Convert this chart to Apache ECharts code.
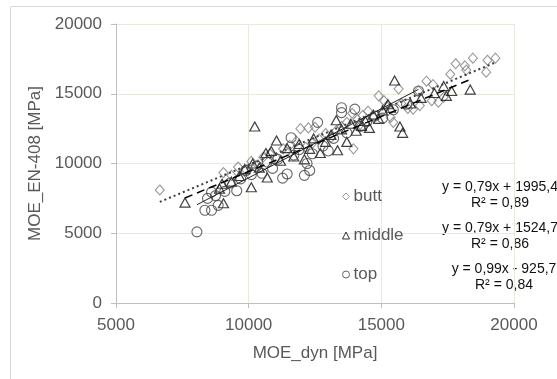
<!DOCTYPE html>
<html>
<head>
<meta charset="utf-8">
<script src="https://cdn.jsdelivr.net/npm/echarts@6/dist/echarts.min.js"></script>
<style>
  html, body { margin: 0; padding: 0; background: #fff; }
  #chart { width: 557px; height: 379px; }
</style>
</head>
<body>
<div id="chart"></div>
<script>
// MOE_dyn [MPa] vs MOE_EN-408 [MPa]
var buttPoints = [
  [6650, 8100], [9050, 9350], [9350, 9150], [9600, 9750], [9900, 9550], [10100, 10150],
  [10350, 9900], [10550, 10450], [10800, 10700], [11050, 10400], [11300, 11050], [11550, 11300],
  [11800, 11600], [11950, 12500], [12250, 12550], [12500, 12600], [12150, 11150], [12400, 11450],
  [12650, 11750], [12900, 12150], [13100, 11850], [13300, 12350], [13500, 12650], [13700, 12950],
  [13950, 11050], [14100, 13150], [14300, 13450], [14500, 13750], [14700, 13300], [14900, 14850],
  [15100, 14500], [15350, 13300], [15450, 12950], [15650, 15350], [15750, 14300], [16000, 13950],
  [16200, 13900], [16450, 14150], [16700, 15900], [16900, 14500], [16950, 15650], [17150, 14400],
  [17350, 14750], [17600, 16400], [17800, 17150], [18150, 17000], [18200, 16700], [18450, 17550],
  [18950, 16550], [19000, 17400], [19300, 17550], [16400, 15200], [13900, 13600], [14200, 12800],
  [15200, 14100]
];
var middlePoints = [
  [7600, 7200], [8900, 8200], [9050, 7150], [9000, 8550], [9350, 8700], [9650, 9100],
  [9850, 9600], [10100, 8300], [10150, 10000], [10230, 12650], [10400, 9700], [10700, 9000],
  [10650, 10750], [10850, 10900], [11050, 11650], [11200, 10200], [11450, 11100], [11700, 10500],
  [11900, 11400], [12100, 10300], [12300, 11050], [12450, 11800], [12700, 10750], [12900, 11550],
  [13100, 12050], [13300, 13100], [13350, 10950], [13500, 12450], [13700, 11550], [13850, 12850],
  [14050, 12350], [14250, 12700], [14400, 13050], [14550, 12550], [14700, 13500], [14900, 13200],
  [15050, 13800], [15250, 14250], [15350, 14000], [15500, 15950], [15700, 12650], [15800, 12200],
  [16100, 14300], [16500, 14700], [17000, 15050], [17350, 15550], [17450, 14850], [17650, 15200],
  [18350, 15300]
];
var topPoints = [
  [8050, 5100], [8350, 6650], [8600, 6650], [8850, 7000], [8450, 7500], [8600, 7950],
  [8750, 7700], [9100, 8000], [9550, 8050], [9300, 8600], [9700, 8900], [9900, 9500],
  [10100, 9200], [10300, 9800], [10500, 9300], [10700, 10100], [10900, 9650], [11100, 10300],
  [11280, 8950], [11450, 9250], [11600, 11850], [11700, 10600], [11900, 11000], [12100, 9150],
  [12200, 10000], [12300, 9500], [12400, 10700], [12600, 12950], [12800, 11250], [13000, 10900],
  [13200, 11800], [13500, 14000], [13500, 13650], [13700, 12200], [14000, 13900], [14200, 12650],
  [14450, 13000], [14750, 13400], [15050, 13250], [15450, 13850], [15950, 14250], [16400, 15200]
];

// trendline coefficients [slope, intercept] as printed on the chart
var buttFit = [0.79, 1995.4];
var middleFit = [0.79, 1524.7];
var topFit = [0.99, -925.7];

var seriesNames = ['butt', 'middle', 'top'];
var fitLabels = [
  'y = 0,79x + 1995,4\nR² = 0,89',
  'y = 0,79x + 1524,7\nR² = 0,86',
  'y = 0,99x - 925,7\nR² = 0,84'
];

var FONT = '"Liberation Sans", Arial, sans-serif';
var GREY_TEXT = '#595959';

function trend(points, fit) {
  var xs = points.map(function (p) { return p[0]; });
  var x0 = Math.min.apply(null, xs), x1 = Math.max.apply(null, xs);
  return [[x0, fit[0] * x0 + fit[1]], [x1, fit[0] * x1 + fit[1]]];
}

function plain(v) { return String(v); }

var chart = echarts.init(document.getElementById('chart'));

var option = {
  animation: false,
  backgroundColor: '#fff',
  grid: { left: 116, right: 43, top: 24, bottom: 76 },
  xAxis: {
    type: 'value', min: 5000, max: 20000, interval: 5000,
    name: 'MOE_dyn [MPa]', nameLocation: 'middle', nameGap: 42,
    nameTextStyle: { color: GREY_TEXT, fontSize: 17, fontFamily: FONT },
    axisLine: { show: true, onZero: false, lineStyle: { color: '#bfbfbf', width: 1 } },
    axisTick: { show: true, length: 5, lineStyle: { color: '#bfbfbf' } },
    axisLabel: { color: GREY_TEXT, fontSize: 17, fontFamily: FONT, margin: 14, formatter: plain },
    splitLine: { show: true, lineStyle: { color: '#ebe8df', width: 1 } }
  },
  yAxis: {
    type: 'value', min: 0, max: 20000, interval: 5000,
    name: 'MOE_EN-408 [MPa]', nameLocation: 'middle', nameGap: 56, nameRotate: 90,
    nameTextStyle: { color: GREY_TEXT, fontSize: 17, fontFamily: FONT },
    axisLine: { show: true, onZero: false, lineStyle: { color: '#bfbfbf', width: 1 } },
    axisTick: { show: true, length: 5, lineStyle: { color: '#bfbfbf' } },
    axisLabel: { color: GREY_TEXT, fontSize: 17, fontFamily: FONT, margin: 14, formatter: plain },
    splitLine: { show: true, lineStyle: { color: '#ebe8df', width: 1 } }
  },
  legend: {
    orient: 'vertical', left: 337, top: 183, itemGap: 22,
    itemWidth: 7, itemHeight: 7,
    textStyle: { color: GREY_TEXT, fontSize: 17, fontFamily: FONT, padding: [0, 0, 0, -1] },
    data: [
      { name: 'butt', icon: 'diamond', itemStyle: { color: '#fff', borderColor: '#7f7f7f', borderWidth: 1 } },
      { name: 'middle', icon: 'triangle', itemStyle: { color: '#fff', borderColor: '#000', borderWidth: 1 } },
      { name: 'top', icon: 'circle', itemStyle: { color: '#fff', borderColor: '#404040', borderWidth: 1 } }
    ]
  },
  graphic: [
    { type: 'rect', silent: true, shape: { x: 10.5, y: 6.5, width: 600, height: 400 },
      style: { fill: 'none', stroke: '#d9d9d9', lineWidth: 1 } },
    { type: 'text', x: 500, y: 195, style: { text: fitLabels[0], fill: '#111', font: '14px ' + FONT, align: 'center', verticalAlign: 'middle', lineHeight: 16 } },
    { type: 'text', x: 500, y: 236, style: { text: fitLabels[1], fill: '#111', font: '14px ' + FONT, align: 'center', verticalAlign: 'middle', lineHeight: 16 } },
    { type: 'text', x: 504, y: 277, style: { text: fitLabels[2], fill: '#111', font: '14px ' + FONT, align: 'center', verticalAlign: 'middle', lineHeight: 16 } }
  ],
  series: [
    {
      name: seriesNames[0], type: 'scatter', symbol: 'diamond', symbolSize: [9, 10],
      itemStyle: { color: 'rgba(0,0,0,0)', borderColor: '#7f7f7f', borderWidth: 1.1 },
      data: buttPoints
    },
    {
      name: seriesNames[1], type: 'scatter', symbol: 'triangle', symbolSize: [10, 9],
      itemStyle: { color: 'rgba(0,0,0,0)', borderColor: '#111', borderWidth: 1.2 },
      data: middlePoints
    },
    {
      name: seriesNames[2], type: 'scatter', symbol: 'circle', symbolSize: 10,
      itemStyle: { color: 'rgba(0,0,0,0)', borderColor: '#404040', borderWidth: 1.1 },
      data: topPoints
    },
    {
      name: 'butt trend', type: 'line', showSymbol: false, silent: true, z: 3,
      lineStyle: { color: '#404040', width: 2, type: [2, 3] },
      data: trend(buttPoints, buttFit)
    },
    {
      name: 'middle trend', type: 'line', showSymbol: false, silent: true, z: 3,
      lineStyle: { color: '#000', width: 1.5, type: [8, 5] },
      data: trend(middlePoints, middleFit)
    },
    {
      name: 'top trend', type: 'line', showSymbol: false, silent: true, z: 3,
      lineStyle: { color: '#222', width: 1, type: 'solid' },
      data: trend(topPoints, topFit)
    }
  ]
};

chart.setOption(option);
</script>
</body>
</html>
